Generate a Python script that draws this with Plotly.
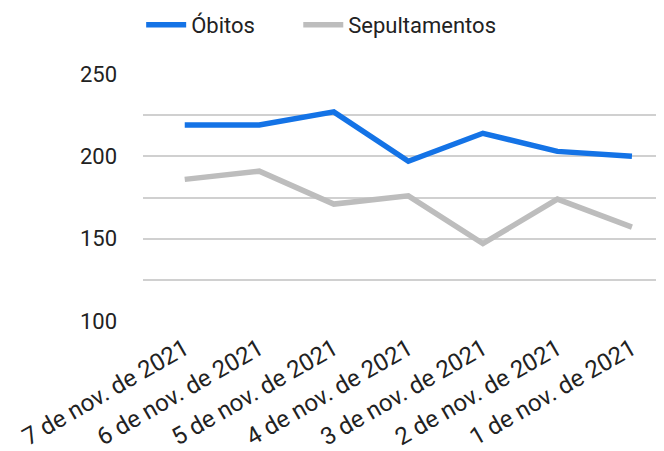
import plotly.graph_objects as go

categories = ["7 de nov. de 2021", "6 de nov. de 2021", "5 de nov. de 2021",
              "4 de nov. de 2021", "3 de nov. de 2021", "2 de nov. de 2021",
              "1 de nov. de 2021"]
obitos = [219, 219, 227, 197, 214, 203, 200]
sepultamentos = [186, 191, 171, 176, 147, 174, 157]
y_tickvals = [100, 125, 150, 175, 200, 225, 250]
y_ticktext = ["100", "", "150", "", "200", "", "250"]

fig = go.Figure()
fig.add_trace(go.Scatter(x=categories, y=obitos, mode="lines", name="Óbitos",
                         line=dict(color="#1473E6", width=5.5), legend="legend"))
fig.add_trace(go.Scatter(x=categories, y=sepultamentos, mode="lines", name="Sepultamentos",
                         line=dict(color="#BDBDBD", width=5.5), legend="legend2"))

leg_common = dict(orientation="h", xref="container", yref="container",
                  xanchor="left", yanchor="middle", y=0.962,
                  font=dict(size=22, color="#222222"), itemwidth=40,
                  bgcolor="rgba(0,0,0,0)")

fig.update_layout(
    width=656, height=443,
    margin=dict(l=135, r=0, t=66, b=130),
    paper_bgcolor="white", plot_bgcolor="white",
    font=dict(family="Roboto", size=22, color="#222222"),
    showlegend=True,
    legend=dict(x=0.203, **leg_common),
    legend2=dict(x=0.4425, **leg_common),
    xaxis=dict(type="category", range=[-0.56, 6.43], showgrid=False,
               showline=False, zeroline=False, tickangle=-30, automargin=False,
               ticklabelstandoff=8,
               tickfont=dict(size=24, color="#222222"), ticks=""),
    yaxis=dict(range=[100, 250], tickvals=y_tickvals, ticktext=y_ticktext,
               showgrid=True, gridcolor="#D0D0D0", gridwidth=2, automargin=False,
               zeroline=False, showline=False, ticks="",
               ticklabelstandoff=25,
               tickfont=dict(size=22, color="#222222")),
)

fig.write_html("out.html")
